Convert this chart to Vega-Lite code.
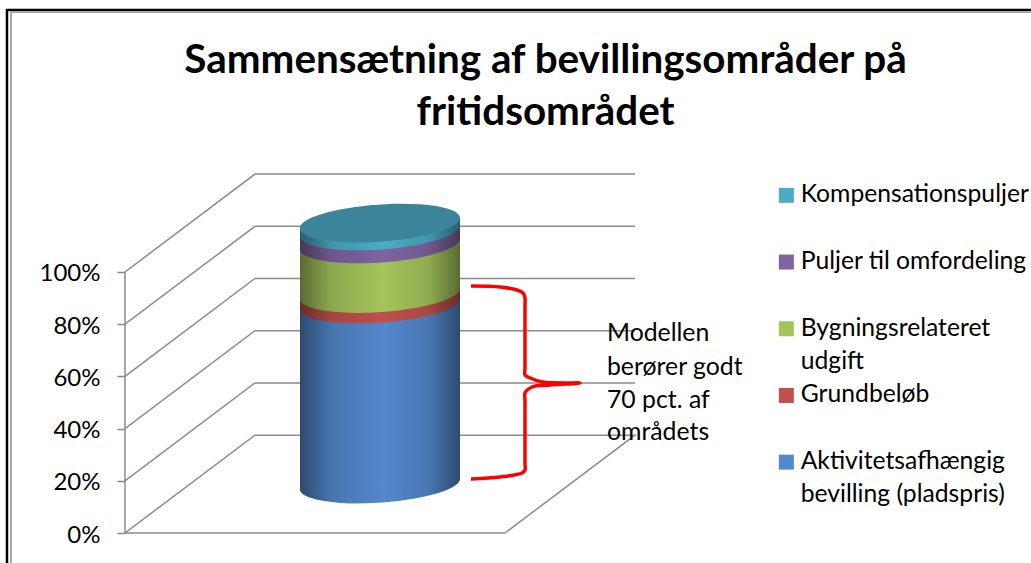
{
"$schema":"https://vega.github.io/schema/vega-lite/v6.json",
"width":1031,"height":563,"padding":0,"autosize":{"type":"none"},"background":"white",
"view":{"stroke":null},
"title":{"text":["Sammensætning af bevillingsområder på","fritidsområdet"],"font":"Lato","fontSize":40.4,"fontWeight":"bold","color":"#000000","anchor":"middle","dx":30,"dy":133,"lineHeight":52,"offset":0},
"datasets":{
"grid":[
{"line":"g0","x":100,"y":0},{"line":"g0","x":134.2,"y":37.5},{"line":"g0","x":34.2,"y":37.5},{"line":"g0","x":0,"y":0},{"line":"g0","x":100,"y":0},
{"line":"g20","x":0,"y":20},{"line":"g20","x":34.2,"y":57.5},{"line":"g20","x":134.2,"y":57.5},
{"line":"g40","x":0,"y":40},{"line":"g40","x":34.2,"y":77.5},{"line":"g40","x":134.2,"y":77.5},
{"line":"g60","x":0,"y":60},{"line":"g60","x":34.2,"y":97.5},{"line":"g60","x":134.2,"y":97.5},
{"line":"g80","x":0,"y":80},{"line":"g80","x":34.2,"y":117.5},{"line":"g80","x":134.2,"y":117.5},
{"line":"g100","x":0,"y":100},{"line":"g100","x":34.2,"y":137.5},{"line":"g100","x":134.2,"y":137.5},
{"line":"axis","x":0,"y":0},{"line":"axis","x":0,"y":100}
],
"bands":[
{"series":"Aktivitetsafhængig bevilling (pladspris)","value":69,"x":46.05,"y":16.65,"y2":85.65},
{"series":"Aktivitetsafhængig bevilling (pladspris)","value":69,"x":88.16,"y":20.85,"y2":89.85},
{"series":"Grundbeløb","value":4,"x":46.05,"y":85.65,"y2":89.65},
{"series":"Grundbeløb","value":4,"x":88.16,"y":89.85,"y2":93.85},
{"series":"Bygningsrelateret udgift","value":19,"x":46.05,"y":89.65,"y2":108.65},
{"series":"Bygningsrelateret udgift","value":19,"x":88.16,"y":93.85,"y2":112.85},
{"series":"Puljer til omfordeling","value":5,"x":46.05,"y":108.65,"y2":113.65},
{"series":"Puljer til omfordeling","value":5,"x":88.16,"y":112.85,"y2":117.85},
{"series":"Kompensationspuljer","value":3,"x":46.05,"y":113.65,"y2":116.65},
{"series":"Kompensationspuljer","value":3,"x":88.16,"y":117.85,"y2":120.85}
],
"rings":[
{"series":"Aktivitetsafhængig bevilling (pladspris)","x":67.1,"y":18.75},
{"series":"Grundbeløb","x":67.1,"y":87.75},
{"series":"Bygningsrelateret udgift","x":67.1,"y":91.75},
{"series":"Puljer til omfordeling","x":67.1,"y":110.75},
{"series":"Kompensationspuljer","x":67.1,"y":115.75}
],
"shadeBody":[{"x":46.05,"y":16.65,"y2":116.65},{"x":88.16,"y":20.85,"y2":120.85}],
"shadeBase":[{"x":67.1,"y":18.75}],
"cap":[{"x":67.1,"y":118.75}],
"brace":[
{"i":1,"x":91.05,"y":94.64},{"i":2,"x":98.68,"y":94.25},{"i":3,"x":103.16,"y":93.1},{"i":4,"x":104.74,"y":91.95},{"i":5,"x":105.26,"y":90.04},{"i":5.5,"x":105.26,"y":87.36},{"i":5.7,"x":105.26,"y":63.22},{"i":6,"x":105.26,"y":60.54},{"i":7,"x":106.05,"y":59.77},{"i":8,"x":110,"y":57.85},{"i":9,"x":119.74,"y":57.47},{"i":10,"x":111.84,"y":56.7},{"i":11,"x":107.11,"y":55.94},{"i":12,"x":105.26,"y":53.64},{"i":12.3,"x":105.26,"y":50.96},{"i":12.6,"x":105.26,"y":26.82},{"i":13,"x":105.26,"y":24.14},{"i":14,"x":104.47,"y":22.99},{"i":15,"x":98.68,"y":21.46},{"i":16,"x":91.05,"y":20.69}
],
"note":[
{"x":126.84,"y":76.2,"text":"Modellen"},
{"x":126.84,"y":63.2,"text":"berører godt"},
{"x":126.84,"y":50.5,"text":"70 pct. af"},
{"x":126.84,"y":38.3,"text":"områdets"}
],
"frameBlack":[{"i":1,"x":-31.05,"y":-11.49},{"i":2,"x":-31.05,"y":200.4},{"i":3,"x":238.42,"y":200.4}],
"frameGray":[{"i":1,"x":-30,"y":-11.49},{"i":2,"x":-30,"y":199.6},{"i":3,"x":238.42,"y":199.6}]
},
"encoding":{
"x":{"field":"x","type":"quantitative","scale":{"domain":[-32.89,238.42],"nice":false,"zero":false},"axis":null},
"y":{"field":"y","type":"quantitative","stack":null,"scale":{"domain":[-11.49,204.21],"nice":false,"zero":false},
"axis":{"values":[0,20,40,60,80,100],"title":null,"grid":false,"domain":false,"offset":-125,"tickSize":8,"tickColor":"#868686","tickWidth":1.5,"labelPadding":17,"labelOffset":2,"labelFont":"Lato","labelFontSize":24,"labelColor":"#000000","labelExpr":"datum.value+'%'"}}
},
"layer":[
{"data":{"name":"frameBlack"},"mark":{"type":"line","color":"#000000","strokeWidth":2.5,"clip":true},"encoding":{"order":{"field":"i"}}},
{"data":{"name":"frameGray"},"mark":{"type":"line","color":"#a6a6a6","strokeWidth":2,"clip":true},"encoding":{"order":{"field":"i"}}},
{"data":{"name":"grid"},"mark":{"type":"line","color":"#8c8c8c","strokeWidth":1.5},"encoding":{"detail":{"field":"line"},"order":{"value":null}}},
{"data":{"name":"bands"},"mark":{"type":"area","opacity":1},"encoding":{
"y2":{"field":"y2"},
"color":{"field":"series","type":"nominal",
"scale":{"domain":["Kompensationspuljer","Puljer til omfordeling","Bygningsrelateret udgift","Grundbeløb","Aktivitetsafhængig bevilling (pladspris)"],"range":["#4bacc6","#8064a2","#a4c45c","#c0504d","#5388cc"]},
"legend":{"orient":"none","legendX":774,"legendY":183,"title":null,"symbolType":"square","symbolSize":225,"symbolOpacity":1,"symbolStrokeWidth":0,"labelFont":"Lato","labelFontSize":24.7,"labelColor":"#000000","labelLimit":300,"labelOffset":2,"gridAlign":"all","rowPadding":7.7,"labelBaseline":"middle",
"encode":{"labels":{"update":{"lineHeight":{"value":33}}}},
"labelExpr":"datum.label=='Bygningsrelateret udgift'?['Bygningsrelateret','udgift']:datum.label=='Aktivitetsafhængig bevilling (pladspris)'?['Aktivitetsafhængig','bevilling (pladspris)']:datum.label"}}}},
{"data":{"name":"rings"},"mark":{"type":"point","filled":true,"opacity":1,"strokeWidth":0,"size":25600,"shape":"M-1,0.069 A1.0024,0.231 -3.95 1 1 1,-0.069 A1.0024,0.231 -3.95 1 1 -1,0.069 Z"},"encoding":{"color":{"field":"series","type":"nominal"}}},
{"data":{"name":"shadeBody"},"mark":{"type":"area","opacity":1,"fill":{"gradient":"linear","x1":0,"y1":0,"x2":1,"y2":0,"stops":[{"offset":0,"color":"rgba(0,0,0,0.45)"},{"offset":0.2,"color":"rgba(0,0,0,0.14)"},{"offset":0.52,"color":"rgba(0,0,0,0)"},{"offset":0.8,"color":"rgba(0,0,0,0.12)"},{"offset":1,"color":"rgba(0,0,0,0.45)"}]}},"encoding":{"y2":{"field":"y2"}}},
{"data":{"name":"shadeBase"},"mark":{"type":"point","filled":true,"opacity":1,"strokeWidth":0,"size":25600,"fill":{"gradient":"linear","x1":0,"y1":0,"x2":1,"y2":0,"stops":[{"offset":0,"color":"rgba(0,0,0,0.45)"},{"offset":0.2,"color":"rgba(0,0,0,0.14)"},{"offset":0.52,"color":"rgba(0,0,0,0)"},{"offset":0.8,"color":"rgba(0,0,0,0.12)"},{"offset":1,"color":"rgba(0,0,0,0.45)"}]},"shape":"M-1,0.069 A1.0024,0.231 -3.95 0 0 1,-0.069 Z"}},
{"data":{"name":"cap"},"mark":{"type":"point","filled":true,"opacity":1,"strokeWidth":0,"size":25600,"fill":"#3b8499","shape":"M-1,0.069 A1.0024,0.231 -3.95 1 1 1,-0.069 A1.0024,0.231 -3.95 1 1 -1,0.069 Z"}},
{"data":{"name":"brace"},"mark":{"type":"line","color":"#ff0000","strokeWidth":3.5,"interpolate":"catmull-rom"},"encoding":{"order":{"field":"i"}}},
{"data":{"name":"note"},"mark":{"type":"text","align":"left","baseline":"middle","font":"Lato","fontSize":24.8,"color":"#000000"},"encoding":{"text":{"field":"text"}}}
]
}
